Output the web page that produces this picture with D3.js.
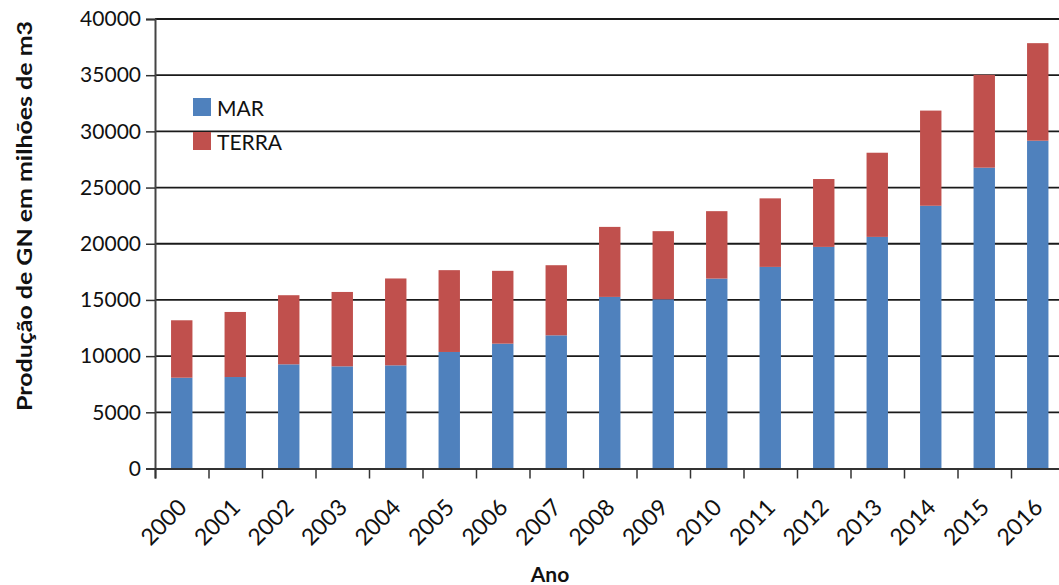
<!DOCTYPE html>
<html>
<head>
<meta charset="utf-8">
<script src="https://cdn.jsdelivr.net/npm/d3@7"></script>
<style>
  body { margin: 0; background: #fff; }
  .chart text { font-family: Lato, "Open Sans", sans-serif; fill: #111; }
</style>
</head>
<body>
<div class="chart"></div>
<script>
const years = ["2000", "2001", "2002", "2003", "2004", "2005", "2006", "2007", "2008",
  "2009", "2010", "2011", "2012", "2013", "2014", "2015", "2016"]
const mar = [8080, 8140, 9270, 9090, 9180, 10370, 11110, 11850, 15270,
  15060, 16900, 17940, 19720, 20610, 23380, 26770, 29170]
const terra = [5110, 5790, 6150, 6620, 7730, 7280, 6480, 6240, 6230,
  6060, 6000, 6100, 6040, 7490, 8470, 8260, 8680]
const yTicks = [0, 5000, 10000, 15000, 20000, 25000, 30000, 35000, 40000]
const seriesNames = ["MAR", "TERRA"]

const width = 1059
const height = 585
const margin = { top: 19, bottom: 116.5, left: 155, right: -5.5 }
const colors = { MAR: "#4F81BD", TERRA: "#C0504D" }

let rows = years.map((y, i) => ({ year: y, MAR: mar[i], TERRA: terra[i] }))
let stacked = d3.stack().keys(seriesNames)(rows)

let svg = d3.select(".chart")
  .append("svg")
  .attr("width", width)
  .attr("height", height)

let x = d3.scaleBand()
  .domain(years)
  .range([margin.left, width - margin.right])
  .paddingInner(0.6)
  .paddingOuter(0.3)

let xTicks = d3.scaleLinear()
  .domain([0, years.length])
  .range([margin.left, width - margin.right])

let y = d3.scaleLinear()
  .domain([0, 40000])
  .range([height - margin.bottom, margin.top])

// gridlines
svg.append("g")
  .selectAll("line")
  .data(yTicks.slice(1))
  .enter()
  .append("line")
  .attr("x1", margin.left)
  .attr("x2", width)
  .attr("y1", d => y(d))
  .attr("y2", d => y(d))
  .attr("stroke", "#1a1a1a")
  .attr("stroke-width", 1.8)

// bars
svg.append("g")
  .selectAll("g")
  .data(stacked)
  .enter()
  .append("g")
  .attr("fill", d => colors[d.key])
  .selectAll("rect")
  .data(d => d)
  .enter()
  .append("rect")
  .attr("x", d => x(d.data.year))
  .attr("width", x.bandwidth())
  .attr("y", d => y(d[1]))
  .attr("height", d => y(d[0]) - y(d[1]))

// y axis
let yAxis = svg.append("g")
  .attr("transform", `translate(${margin.left}, 0)`)
  .call(d3.axisLeft(y).tickValues(yTicks).tickSize(9).tickPadding(5).tickFormat(d3.format("d")))
yAxis.select(".domain").attr("stroke", "#444").attr("stroke-width", 2)
yAxis.selectAll(".tick line").attr("stroke", "#333").attr("stroke-width", 1.5)
yAxis.selectAll(".tick text").style("font-size", "21px")

// x axis (tick marks between categories)
let xAxis = svg.append("g")
  .attr("transform", `translate(0, ${y(0)})`)
  .call(d3.axisBottom(xTicks).tickValues(d3.range(years.length + 1)).tickSize(10).tickFormat(""))
xAxis.select(".domain").attr("stroke", "#333").attr("stroke-width", 2)
xAxis.selectAll(".tick line").attr("stroke", "#333").attr("stroke-width", 1.5)

// rotated year labels
svg.append("g")
  .selectAll("text")
  .data(years)
  .enter()
  .append("text")
  .attr("transform", d => `translate(${x(d) + x.bandwidth() / 2 - 5}, ${y(0) + 29}) rotate(-45)`)
  .attr("text-anchor", "end")
  .attr("dy", "0.7em")
  .style("font-size", "23px")
  .text(d => d)

// axis titles
svg.append("text")
  .attr("transform", `translate(32, 216) rotate(-90)`)
  .attr("text-anchor", "middle")
  .attr("textLength", 390)
  .attr("lengthAdjust", "spacingAndGlyphs")
  .style("font-size", "21px")
  .style("font-weight", "bold")
  .text("Produção de GN em milhões de m3")

svg.append("text")
  .attr("x", 550)
  .attr("y", 582)
  .attr("text-anchor", "middle")
  .style("font-size", "21px")
  .style("font-weight", "bold")
  .text("Ano")

// legend
let legend = svg.append("g")
  .selectAll("g")
  .data(seriesNames)
  .enter()
  .append("g")
  .attr("transform", (d, i) => `translate(193, ${98 + i * 34})`)

legend.append("rect")
  .attr("width", 18)
  .attr("height", 18)
  .attr("fill", d => colors[d])

legend.append("text")
  .attr("x", 24)
  .attr("y", 18)
  .style("font-size", "21px")
  .text(d => d)
</script>
</body>
</html>
